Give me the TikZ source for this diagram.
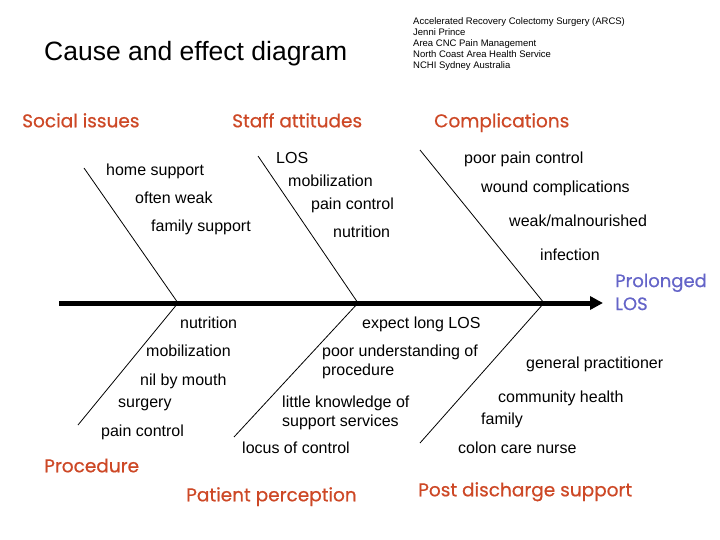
\documentclass[tikz,border=0pt]{standalone}
\usepackage{fontspec}
\setmainfont{Liberation Sans}
\newfontfamily\headfont{Poppins}[FakeBold=0.6]
\usetikzlibrary{arrows.meta}
\definecolor{headred}{RGB}{205,72,38}
\definecolor{headblue}{RGB}{100,100,200}
\tikzset{
  item/.style={anchor=west, inner sep=0pt, text height=11.5pt, text depth=3.2pt, yshift=-1.5pt, font=\fontsize{16}{17}\selectfont},
  head/.style={anchor=west, inner sep=0pt, text height=13.3pt, text depth=3.7pt, yshift=-1.5pt, text=headred, font=\headfont\fontsize{18.5}{20}\selectfont},
  bone/.style={line width=0.8pt},
  spine/.style={line width=5pt, -{Triangle[length=13pt,width=13pt]}},
}
\begin{document}
\begin{tikzpicture}[x=1pt,y=-1pt]
\useasboundingbox (0,0) rectangle (720,540);
% title
\node[anchor=west, inner sep=0pt, font=\fontsize{26.5}{28}\selectfont] (title) at (44,54) {Cause and effect diagram};
\node[anchor=north west, inner sep=0pt, align=left, font=\fontsize{9.5}{11}\selectfont] (info) at (413,17)
 {Accelerated Recovery Colectomy Surgery (ARCS)\\Jenni Prince\\Area CNC Pain Management\\North Coast Area Health Service\\NCHI Sydney Australia};
% coordinates
\coordinate (s0) at (59,303);
\coordinate (tip) at (603,303);
\coordinate (j1) at (178,303);
\coordinate (j2) at (358,303);
\coordinate (j3) at (544,303);
\coordinate (b1) at (84,168);
\coordinate (b2) at (258,156);
\coordinate (b3) at (420,150);
\coordinate (b4) at (78,425);
\coordinate (b5) at (234,437);
\coordinate (b6) at (420,443);
\draw[spine] (s0) -- (tip);
\draw[bone] (b1) -- (j1) -- (b4);
\draw[bone] (b2) -- (j2) -- (b5);
\draw[bone] (b3) -- (j3) -- (b6);
% headings
\node[head] (h1) at (22,121) {Social issues};
\node[head] (h2) at (232,121) {Staff attitudes};
\node[head] (h3) at (434,121) {Complications};
\node[head] (h4) at (44,466) {Procedure};
\node[head] (h5) at (186,495) {Patient perception};
\node[head] (h6) at (418,490) {Post discharge support};
\node[anchor=west, inner sep=0pt, text=headblue, align=left, font=\headfont\fontsize{18}{23}\selectfont] (effect) at (615,292) {Prolonged\\LOS};
% social issues
\node[item] (t1) at (106,170) {home support};
\node[item] (t2) at (135,198) {often weak};
\node[item] (t3) at (151,226) {family support};
% staff attitudes
\node[item] (t4) at (276,158) {LOS};
\node[item] (t5) at (288,181) {mobilization};
\node[item] (t6) at (311,204) {pain control};
\node[item] (t7) at (333,232) {nutrition};
% complications
\node[item] (t8) at (464,158) {poor pain control};
\node[item] (t9) at (481,187) {wound complications};
\node[item] (t10) at (509,221) {weak/malnourished};
\node[item] (t11) at (540,255) {infection};
% procedure
\node[item] (t12) at (180,323) {nutrition};
\node[item] (t13) at (146,351) {mobilization};
\node[item] (t14) at (140,380) {nil by mouth};
\node[item] (t15) at (118,402) {surgery};
\node[item] (t16) at (101,431) {pain control};
% patient perception
\node[item] (t17) at (362,323) {expect long LOS};
\node[anchor=west, inner sep=0pt, align=left, font=\fontsize{16}{19}\selectfont] (t18) at (322,361.5) {poor understanding of\\procedure};
\node[anchor=west, inner sep=0pt, align=left, font=\fontsize{16}{19}\selectfont] (t19) at (282,412.5) {little knowledge of\\support services};
\node[item] (t20) at (242,448) {locus of control};
% post discharge
\node[item] (t21) at (526,363) {general practitioner};
\node[item] (t22) at (498,397) {community health};
\node[item] (t23) at (481,419) {family};
\node[item] (t24) at (458,448) {colon care nurse};
\end{tikzpicture}
\end{document}
